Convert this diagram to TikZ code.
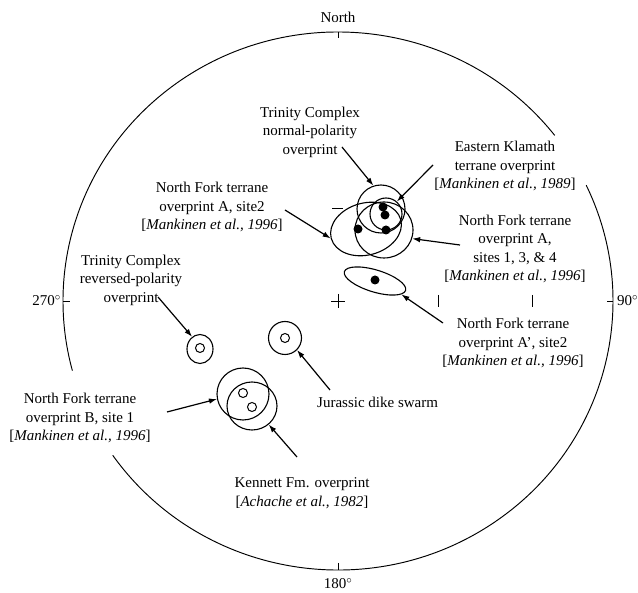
\documentclass[tikz,border=0pt]{standalone}
\usepackage{fontspec}
\setmainfont{Liberation Serif}
\usepackage{tikz}
\usetikzlibrary{arrows.meta,shapes.geometric}
\tikzset{
  lbl/.style={font=\fontsize{15}{18.5}\selectfont, align=center, inner sep=0pt},
  oval/.style={ellipse, draw, line width=1.1pt, inner sep=0pt},
  ring/.style={circle, draw, line width=1.1pt, inner sep=0pt, minimum size=#1},
  dotmark/.style={circle, fill, inner sep=0pt, minimum size=9pt},
  hole/.style={circle, draw, line width=1pt, inner sep=0pt, minimum size=9pt},
  pointer/.style={-{Latex[length=8pt,width=5.5pt]}, line width=1.2pt},
  tickmark/.style={line width=0.95pt},
}
\begin{document}
\begin{tikzpicture}[x=1pt,y=-1pt]
\useasboundingbox (0,0) rectangle (638,593);

% primitive circle, broken behind the labels
\coordinate (o) at (338,301);
\draw[tickmark] (o) ++(-38:275 and 269) arc[start angle=-38, end angle=-195, x radius=275, y radius=269];
\draw[tickmark] (o) ++(-215:275 and 269) arc[start angle=-215, end angle=-385.5, x radius=275, y radius=269];

% ticks and centre cross
\draw[tickmark] (338,32) -- (338,38);
\draw[tickmark] (338,563) -- (338,570);
\draw[tickmark] (63,301) -- (70,301);
\draw[tickmark] (607,301) -- (613,301);
\draw[tickmark] (331,301) -- (345,301) (338,294) -- (338,308);
\draw[tickmark] (438,295) -- (438,307);
\draw[tickmark] (532,295) -- (532,307);
\draw[tickmark] (332,208) -- (343,208);

% direction labels
\node[lbl] (north) at (338,17) {North};
\node[lbl] (south) at (338,584) {180$^{\circ}$};
\node[lbl, anchor=east] (west) at (61,301) {270$^{\circ}$};
\node[lbl, anchor=west] (east) at (617,301) {90$^{\circ}$};

% overprint directions
\node[ring=48pt] (trnN) at (381,209) {};
\node[ring=32pt] (ekl) at (386,214) {};
\node[oval, minimum width=72pt, minimum height=52pt, rotate=15] (nfA2) at (366,229) {};
\node[oval, minimum width=58pt, minimum height=56pt] (nfA) at (384,230) {};
\node[dotmark] (d1) at (383,207) {};
\node[dotmark] (d2) at (385,215) {};
\node[dotmark] (d3) at (358,229) {};
\node[dotmark] (d4) at (386,230) {};
\node[oval, minimum width=64pt, minimum height=22pt, rotate=-17] (nfAp) at (375,281) {};
\node[dotmark] (d5) at (375,280) {};
\node[oval, minimum width=26pt, minimum height=29pt] (trnR) at (200,349) {};
\node[hole] (h1) at (200,348) {};
\node[ring=33pt] (jds) at (285,338) {};
\node[hole] (h2) at (285,338) {};
\node[ring=52pt] (nfB) at (243,394) {};
\node[oval, minimum width=50pt, minimum height=48pt] (kfm) at (252,406) {};
\node[hole] (h3) at (243,393) {};
\node[hole] (h4) at (252,407) {};

% labels
\node[lbl] (tTrnN) at (310,132) {Trinity Complex\\normal-polarity\\overprint};
\node[lbl] (tEkl) at (505,166) {Eastern Klamath\\terrane overprint\\{[}\textit{Mankinen et al., 1989}{]}};
\node[lbl] (tNfA2) at (212,207) {North Fork terrane\\overprint A, site2\\{[}\textit{Mankinen et al., 1996}{]}};
\node[lbl] (tNfA) at (515,249) {North Fork terrane\\overprint A,\\sites 1, 3, \& 4\\{[}\textit{Mankinen et al., 1996}{]}};
\node[lbl] (tNfAp) at (513,343) {North Fork terrane\\overprint A', site2\\{[}\textit{Mankinen et al., 1996}{]}};
\node[lbl] (tTrnR) at (131,280) {Trinity Complex\\reversed-polarity\\overprint};
\node[lbl] (tNfB) at (80,418) {North Fork terrane\\overprint B, site 1\\{[}\textit{Mankinen et al., 1996}{]}};
\node[lbl, anchor=west] (tJds) at (317,402) {Jurassic dike swarm};
\node[lbl] (tKfm) at (302,493) {Kennett Fm. overprint\\{[}\textit{Achache et al., 1982}{]}};

% arrow tails
\coordinate (aTrnN) at (342,147);
\coordinate (aEkl) at (433,165);
\coordinate (aNfA2) at (285,210);
\coordinate (aNfA) at (460,245);
\coordinate (aNfAp) at (443,323);
\coordinate (aTrnR) at (158,297);
\coordinate (aJds) at (330,390);
\coordinate (aNfB) at (167,412);
\coordinate (aKfm) at (297,457);

% pointers
\draw[pointer] (aTrnN) -- (trnN.108);
\draw[pointer] (aEkl) -- (ekl.49);
\draw[pointer] (aNfA2) -- (nfA2.180);
\draw[pointer] (aNfA) -- (nfA.-17);
\draw[pointer] (aNfAp) -- (nfAp.-10);
\draw[pointer] (aTrnR) -- (trnR.123);
\draw[pointer] (aJds) -- (jds.-45);
\draw[pointer] (aNfB) -- (nfB.191);
\draw[pointer] (aKfm) -- (kfm.-48);

\end{tikzpicture}
\end{document}
